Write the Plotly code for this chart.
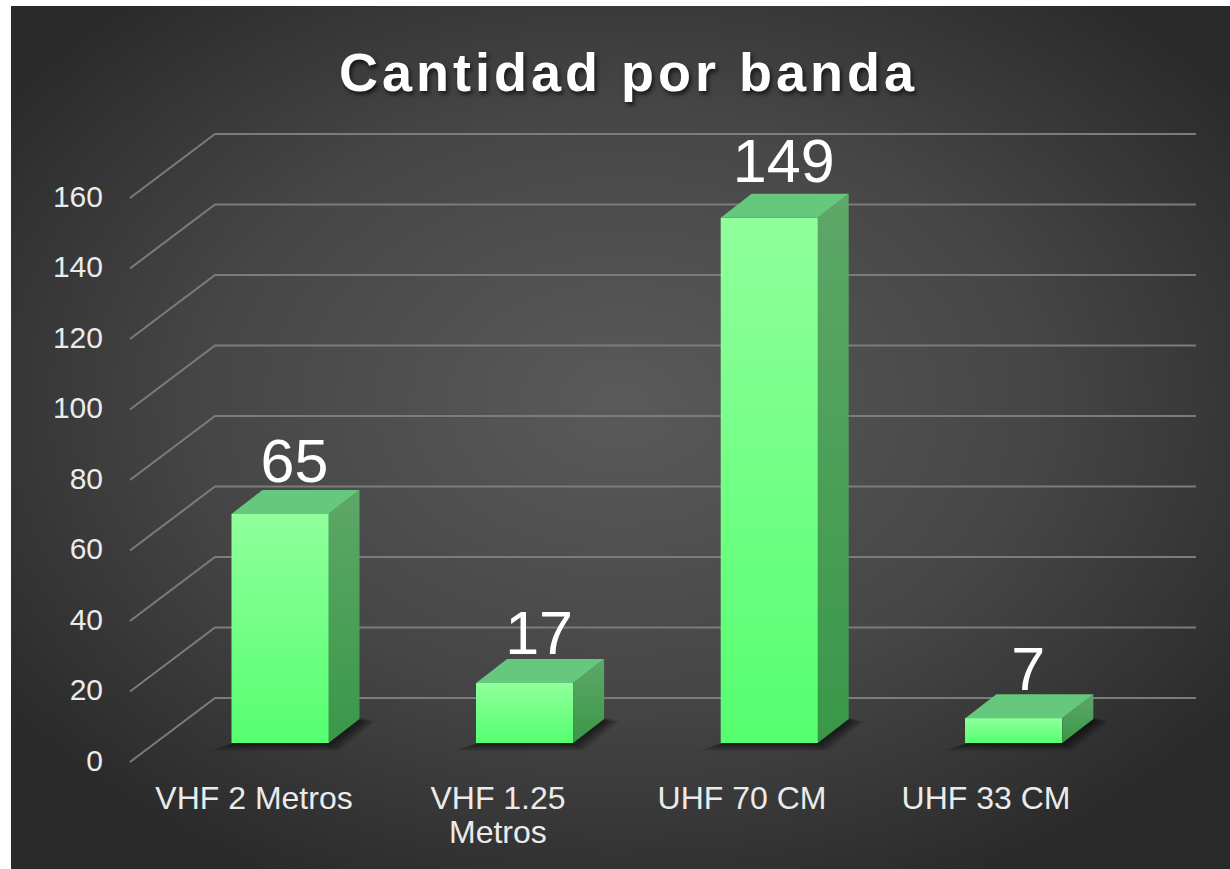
import base64
import plotly.graph_objects as go

# ---- data ----
categorias = ["VHF 2 Metros", "VHF 1.25", "UHF 70 CM", "UHF 33 CM"]
categoria_linea2 = "Metros"
valores = [65, 17, 149, 7]
ticks_y = [0, 20, 40, 60, 80, 100, 120, 140, 160]
titulo = "Cantidad por banda"

# ---- page geometry ----
W, H = 1230, 869
SCALE = 3.525          # px per unit of value
STEP_F, X0_F = 244.0, 254.0   # front-axis labels: px of category i
STEP_B, X0_B = 244.6, 280.0   # columns: px of category i
Y0_F, Y0_B = 762.0, 743.0     # px of value 0 on the axis labels / column base


def fx(px):
    return (px - X0_F) / STEP_F


def bw(px):
    return px / STEP_B


wall_front, wall_back, wall_right = fx(130), fx(215), fx(1196)
wall_rise = 64 / SCALE
half = bw(48.5)
dx, dy = bw(31), 24 / SCALE

fig = go.Figure()

# ---- walls: gridlines ----
gx, gy = [], []
for t in ticks_y:
    gx += [wall_front, wall_back, wall_right, None]
    gy += [t, t + wall_rise, t + wall_rise, None]
fig.add_trace(go.Scatter(x=gx, y=gy, mode="lines", line=dict(color="#7c7c7c", width=2),
                         hoverinfo="skip", showlegend=False, xaxis="x", yaxis="y"))

# ---- soft shadows under the columns ----
for i, v in enumerate(valores):
    for e in (22, 20, 18, 16, 14, 12, 10, 8, 6, 4, 2):
        ex, ey = bw(e), e * 0.36 / SCALE
        fig.add_trace(go.Scatter(
            x=[i - half - ex, i + half + ex * 0.5, i + half + dx + ex * 0.7, i + half + dx - ex, i - half - ex],
            y=[-ey, -ey, dy * 0.9, dy + ey, -ey],
            mode="lines", fill="toself", fillcolor="rgba(0,0,0,0.06)", line=dict(width=0),
            hoverinfo="skip", showlegend=False, xaxis="x2", yaxis="y2"))

# ---- columns ----
fig.add_trace(go.Bar(x=list(range(len(valores))), y=valores, width=2 * half,
                     marker=dict(color="#6fff85", line=dict(width=0)),
                     hovertemplate="%{y}<extra></extra>", showlegend=False,
                     xaxis="x3", yaxis="y3"))

for i, v in enumerate(valores):
    l, r = i - half, i + half
    # front face gradient
    fig.add_trace(go.Scatter(
        x=[l, r, r, l, l], y=[0, 0, v, v, 0], mode="lines", fill="toself",
        fillgradient=dict(type="vertical", colorscale=[[0, "#55ff70"], [1, "#90ff9c"]]),
        line=dict(width=0), hoverinfo="skip", showlegend=False, xaxis="x3", yaxis="y3"))
    # side face gradient
    fig.add_trace(go.Scatter(
        x=[r, r + dx, r + dx, r, r], y=[0, dy, v + dy, v, 0], mode="lines", fill="toself",
        fillgradient=dict(type="vertical", colorscale=[[0, "#399848"], [1, "#5ea768"]]),
        line=dict(width=0), hoverinfo="skip", showlegend=False, xaxis="x3", yaxis="y3"))
    # top face
    fig.add_trace(go.Scatter(
        x=[l, r, r + dx, l + dx, l], y=[v, v, v + dy, v + dy, v], mode="lines", fill="toself",
        fillcolor="#66c87c", line=dict(width=0), hoverinfo="skip", showlegend=False,
        xaxis="x3", yaxis="y3"))

# ---- data labels ----
fig.add_trace(go.Scatter(
    x=[i + dx / 2 - bw(1) for i in range(len(valores))], y=[v + (43 + 0.056 * v) / SCALE for v in valores],
    mode="text", text=[str(v) for v in valores], textposition="middle center",
    textfont=dict(family="Liberation Sans", size=61, color="#ffffff"),
    hoverinfo="skip", showlegend=False, xaxis="x3", yaxis="y3", cliponaxis=False))

# ---- background ----
svg = """<svg xmlns="http://www.w3.org/2000/svg" width="1219" height="863" viewBox="0 0 1219 863" preserveAspectRatio="none">
<defs><radialGradient id="g" cx="50%" cy="46%" r="62%">
<stop offset="0" stop-color="#5a5a5a"/><stop offset="0.55" stop-color="#464646"/><stop offset="1" stop-color="#2a2a2a"/>
</radialGradient></defs><rect width="1219" height="863" fill="url(#g)"/></svg>"""
bg = "data:image/svg+xml;base64," + base64.b64encode(svg.encode()).decode()

x_range = [fx(0), fx(W)]
y_range = [(Y0_F - H) / SCALE, Y0_F / SCALE]
xb_range = [-X0_B / STEP_B, (W - X0_B) / STEP_B]
yb_range = [(Y0_B - H) / SCALE, Y0_B / SCALE]
tick_font_y = dict(family="Liberation Sans", size=30, color="#ebebeb")
tick_font_x = dict(family="Liberation Sans", size=32, color="#ebebeb")
hidden = dict(visible=False, fixedrange=True)

fig.update_layout(
    width=W, height=H, margin=dict(l=0, r=0, t=0, b=0), autosize=False,
    paper_bgcolor="#ffffff", plot_bgcolor="rgba(0,0,0,0)", showlegend=False,
    title=dict(text=f"<b>{titulo}</b>", x=628.5 / W, y=1 - 72 / H, xanchor="center", yanchor="middle",
               font=dict(family="Liberation Sans", size=54, color="#ffffff",
                         shadow="2px 3px 4px rgba(0,0,0,0.65)")),
    images=[dict(source=bg, xref="paper", yref="paper", x=11 / W, y=1 - 6 / H,
                 sizex=(W - 11) / W, sizey=(H - 6) / H, sizing="stretch",
                 xanchor="left", yanchor="top", layer="below")],
    xaxis=dict(range=x_range, domain=[0, 1], anchor="free", position=(H - 776) / H,
               tickmode="array", tickvals=list(range(len(categorias))), ticktext=categorias,
               tickfont=tick_font_x, tickangle=0, ticks="", showgrid=False, zeroline=False,
               showline=False, fixedrange=True),
    yaxis=dict(range=y_range, domain=[0, 1], anchor="free", position=103 / W,
               tickmode="array", tickvals=ticks_y, ticktext=[str(t) for t in ticks_y],
               tickfont=tick_font_y, ticks="", showgrid=False, zeroline=False,
               showline=False, fixedrange=True, ticklabelshift=-2),
    xaxis2=dict(range=xb_range, overlaying="x", anchor="y2", **hidden),
    yaxis2=dict(range=yb_range, overlaying="y", anchor="x2", **hidden),
    xaxis3=dict(range=xb_range, overlaying="x", anchor="y3", **hidden),
    yaxis3=dict(range=yb_range, overlaying="y", anchor="x3", **hidden),
    annotations=[dict(text=categoria_linea2, xref="x", yref="paper", x=1, y=1 - 832 / H,
                      xanchor="center", yanchor="middle", showarrow=False, font=tick_font_x)],
    bargap=0,
)

fig.write_html("out.html", config=dict(displayModeBar=False),
               post_script="document.head.insertAdjacentHTML('beforeend','<style>html,body{margin:0!important;padding:0;overflow:hidden}.gtitle{letter-spacing:4px}</style>');")
